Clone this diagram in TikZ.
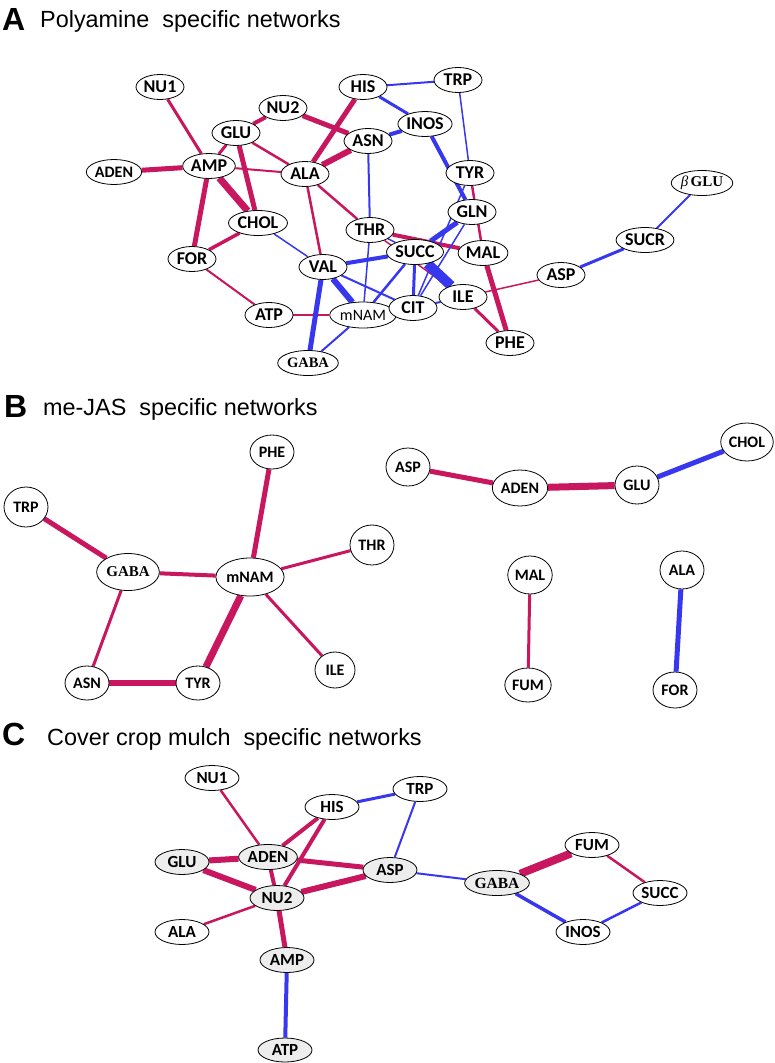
\documentclass[tikz,border=0pt]{standalone}
\usepackage{fontspec}
\setmainfont{Liberation Sans}
\newfontfamily\lblfont{Carlito}
\newfontfamily\serffont{Liberation Serif}
\usetikzlibrary{shapes.geometric,backgrounds}
\definecolor{pnk}{RGB}{200,22,95}
\definecolor{blu}{RGB}{55,55,240}
\tikzset{
  met/.style={draw,ellipse,fill=white,line width=0.8pt,inner sep=0.5pt,
    minimum width=48pt,minimum height=25pt,font=\lblfont\bfseries\fontsize{18}{18}\selectfont},
  bmet/.style={met,minimum width=44pt,minimum height=34pt,font=\lblfont\bfseries\fontsize{16}{16}\selectfont},
  cmet/.style={met,minimum width=54pt,minimum height=25pt,font=\lblfont\bfseries\fontsize{17}{17}\selectfont},
  gry/.style={fill=black!7},
  letr/.style={anchor=base west,inner sep=0pt,font=\bfseries\fontsize{32}{32}\selectfont},
  ttl/.style={anchor=base west,inner sep=0pt,font=\fontsize{23.4}{24}\selectfont}
}
\begin{document}
\begin{tikzpicture}[x=1pt,y=-1pt]
\useasboundingbox (0,0) rectangle (774,1063);
% titles
\node[letr] (tA) at (2,30) {A};
\node[ttl] (ttlA) at (40,27) {Polyamine\ \ specific networks};
\node[letr] (tB) at (4,417) {B};
\node[ttl] (ttlB) at (43,415) {me-JAS\ \ specific networks};
\node[letr] (tC) at (2,745) {C};
\node[ttl] (ttlC) at (47,745) {Cover crop mulch\ \ specific networks};
%
% A
\node[met] (aNU1) at (160,87) {NU1};
\node[met] (aNU2) at (283,108) {NU2};
\node[met] (aGLU) at (236,133) {GLU};
\node[met,font=\lblfont\bfseries\fontsize{16}{16}\selectfont] (aADEN) at (114,172) {ADEN};
\node[met] (aAMP) at (209,166) {AMP};
\node[met] (aALA) at (305,174) {ALA};
\node[met] (aHIS) at (363,87) {HIS};
\node[met] (aASN) at (368,141) {ASN};
\node[met] (aCHOL) at (258,223) {CHOL};
\node[met] (aFOR) at (192,259) {FOR};
\node[met] (aVAL) at (323,267) {VAL};
\node[met] (aTHR) at (370,230) {THR};
\node[met] (aATP) at (269,315) {ATP};
\node[met,minimum width=57pt,minimum height=26pt,font=\lblfont\fontsize{16}{16}\selectfont] (amNAM) at (363,315) {mNAM};
\node[met,font=\serffont\bfseries\fontsize{14.5}{15}\selectfont] (aGABA) at (308,363) {GABA};
\node[met] (aTRP) at (458,80) {TRP};
\node[met] (aINOS) at (425,124) {INOS};
\node[met] (aTYR) at (470,173) {TYR};
\node[met] (aGLN) at (472,212) {GLN};
\node[met,minimum width=46pt] (aSUCC) at (415,252) {SUCC};
\node[met] (aMAL) at (483,253) {MAL};
\node[met] (aCIT) at (413,308) {CIT};
\node[met] (aILE) at (463,297) {ILE};
\node[met] (aPHE) at (510,343) {PHE};
\node[met] (aASP) at (561,275) {ASP};
\node[met] (aSUCR) at (645,240) {SUCR};
\node[met,minimum width=54pt,font=\serffont\fontsize{15}{15}\selectfont] (abGLU) at (702,183) {\itshape β\,\bfseries\upshape GLU};
%
% B
\node[bmet] (bPHE) at (272,452) {PHE};
\node[bmet,minimum height=40pt] (bTRP) at (26,507) {TRP};
\node[bmet,minimum height=40pt] (bTHR) at (372,545) {THR};
\node[bmet,minimum height=37pt,font=\serffont\bfseries\fontsize{15}{15}\selectfont] (bGABA) at (128,572) {GABA};
\node[bmet,minimum height=38pt] (bmNAM) at (250,577) {mNAM};
\node[bmet,minimum width=40pt,minimum height=36pt] (bILE) at (335,670) {ILE};
\node[bmet] (bASN) at (87,683) {ASN};
\node[bmet] (bTYR) at (198,683) {TYR};
\node[bmet,minimum height=38pt] (bASP) at (408,467) {ASP};
\node[bmet,minimum height=36pt] (bADEN) at (520,488) {ADEN};
\node[bmet,minimum height=38pt] (bGLU) at (637,485) {GLU};
\node[bmet,minimum height=38pt] (bCHOL) at (747,442) {CHOL};
\node[bmet,minimum height=38pt] (bMAL) at (530,575) {MAL};
\node[bmet,minimum height=34pt] (bFUM) at (528,685) {FUM};
\node[bmet,minimum height=38pt] (bALA) at (682,570) {ALA};
\node[bmet,minimum height=36pt] (bFOR) at (675,690) {FOR};
%
% C
\node[cmet] (cNU1) at (212,778) {NU1};
\node[cmet] (cHIS) at (332,807) {HIS};
\node[cmet] (cTRP) at (420,789) {TRP};
\node[cmet,gry] (cGLU) at (182,862) {GLU};
\node[cmet,gry] (cADEN) at (268,857) {ADEN};
\node[cmet,gry] (cASP) at (390,870) {ASP};
\node[cmet,gry] (cNU2) at (277,898) {NU2};
\node[cmet] (cALA) at (182,932) {ALA};
\node[cmet,gry] (cAMP) at (287,960) {AMP};
\node[cmet,gry,minimum height=24pt] (cATP) at (285,1050) {ATP};
\node[cmet,gry,font=\serffont\bfseries\fontsize{15.5}{16}\selectfont] (cGABA) at (497,883) {GABA};
\node[cmet] (cFUM) at (592,845) {FUM};
\node[cmet] (cSUCC) at (660,893) {SUCC};
\node[cmet] (cINOS) at (583,932) {INOS};
%
\begin{scope}[on background layer]
\foreach \a/\b/\w in {aNU1/aAMP/3,aADEN/aAMP/5,aNU2/aGLU/4,aGLU/aAMP/3,aNU2/aASN/5,aHIS/aALA/5,
  aASN/aALA/6,aGLU/aALA/2.5,aAMP/aALA/2,aAMP/aCHOL/7,aGLU/aCHOL/5,aAMP/aFOR/5,aFOR/aCHOL/3.5,
  aFOR/aATP/2,aATP/amNAM/2.5,aALA/aVAL/2.5,aALA/aTHR/2.5,aTHR/aMAL/4,aTHR/aILE/1.5,aTYR/aMAL/2.5,
  aMAL/aPHE/5,aILE/aPHE/3,aASP/aILE/1.5,
  bTRP/bGABA/5,bGABA/bmNAM/4,bPHE/bmNAM/5,bTHR/bmNAM/3,bmNAM/bILE/3,bmNAM/bTYR/7,bGABA/bASN/3,
  bASN/bTYR/6,bASP/bADEN/5,bADEN/bGLU/7,bMAL/bFUM/3,
  cNU1/cADEN/2.5,cHIS/cADEN/4,cHIS/cNU2/4,cGLU/cADEN/6,cGLU/cNU2/6,cADEN/cNU2/4,cADEN/cASP/5,
  cNU2/cASP/6,cNU2/cALA/2.5,cNU2/cAMP/5,cGABA/cFUM/8,cFUM/cSUCC/2.5}
  \draw[pnk,line width=\w pt] (\a)--(\b);
\foreach \a/\b/\w in {aHIS/aTRP/2,aHIS/aINOS/3,aASN/aINOS/4,aTRP/aTYR/1.5,aINOS/aGLN/4,aASN/aTHR/2,
  aTHR/amNAM/1.5,aTHR/aSUCC/1.5,aCHOL/aVAL/1.5,aVAL/aSUCC/4,aVAL/amNAM/6,aVAL/aCIT/2,aVAL/aGABA/5,
  aGABA/amNAM/2,aSUCC/amNAM/2.5,aSUCC/aCIT/3,aSUCC/aGLN/5,aSUCC/aILE/10,aCIT/aTYR/1.5,aCIT/aGLN/1.5,
  aCIT/aILE/2,aASP/aSUCR/3,aSUCR/abGLU/2,
  bGLU/bCHOL/5,bALA/bFOR/5,
  cHIS/cTRP/3,cTRP/cASP/2,cASP/cGABA/2,cGABA/cINOS/3.5,cINOS/cSUCC/2.5,cAMP/cATP/4}
  \draw[blu,line width=\w pt] (\a)--(\b);
\end{scope}
\end{tikzpicture}
\end{document}
